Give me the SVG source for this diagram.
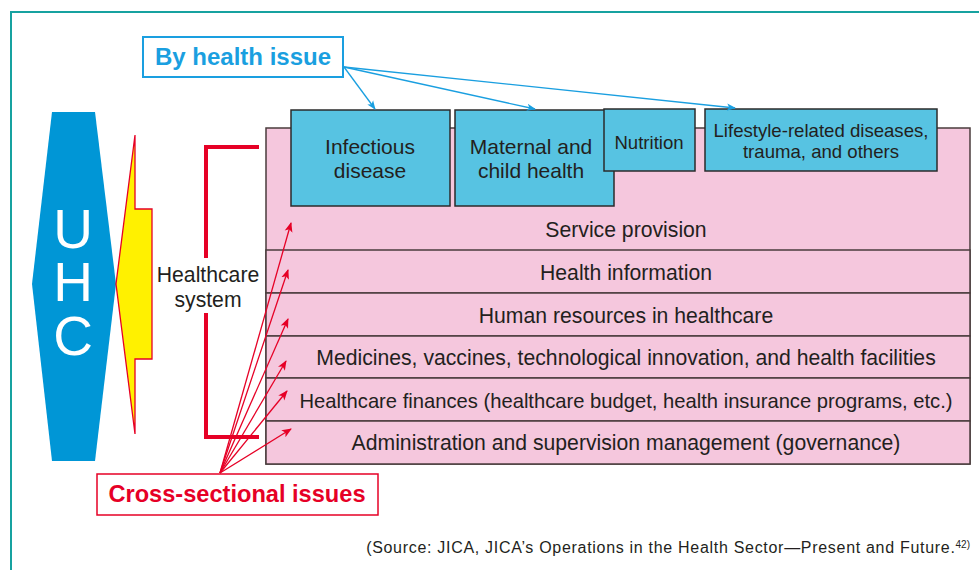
<svg xmlns="http://www.w3.org/2000/svg" width="979" height="570" viewBox="0 0 979 570">
<defs>
<marker id="ab" viewBox="0 0 10 10" refX="9" refY="5" markerWidth="9" markerHeight="9" markerUnits="userSpaceOnUse" orient="auto"><path d="M0,1 L10,5 L0,9 L2.5,5 Z" fill="#1a9fe0"/></marker>
<marker id="ar" viewBox="0 0 10 10" refX="9" refY="5" markerWidth="10" markerHeight="10" markerUnits="userSpaceOnUse" orient="auto"><path d="M0,1 L10,5 L0,9 L2.5,5 Z" fill="#e60026"/></marker>
</defs>
<style>
text{font-family:"Liberation Sans",Arial,sans-serif;fill:#231f20}
.blue{fill:#57c3e2;stroke:#2b2b2b;stroke-width:1.5}
.row{fill:#f5c7dd;stroke:#4a3c3c;stroke-width:1.5}
.lbl{font-size:21.2px;text-anchor:middle}
.box{font-size:21px;text-anchor:middle}
.sm{font-size:18.6px;text-anchor:middle}
.bl{stroke:#1a9fe0;stroke-width:1.3;fill:none}
.rd{stroke:#e60026;stroke-width:1.3;fill:none}
</style>
<rect width="979" height="570" fill="#ffffff"/>
<rect x="11" y="12" width="1000" height="600" fill="none" stroke="#17a2a0" stroke-width="2"/>

<g id="uhc">
<polygon points="52,112 95,112 116,284 95,461 52,461 32,284" fill="#0096d6"/>
<text text-anchor="middle" style="font-size:55px;fill:#ffffff"><tspan x="73" y="248">U</tspan><tspan x="73" y="301">H</tspan><tspan x="73" y="355">C</tspan></text>
</g>
<g id="bolt">
<polygon points="135,135 135,209 152,209 152,359 135,359 135,434 116,284" fill="#fff100" stroke="#e60026" stroke-width="1.3"/>
</g>

<g id="healthcare-system">
<rect x="266" y="128" width="704" height="336" class="row"/>
<rect x="266" y="250" width="704" height="43" class="row"/>
<rect x="266" y="293" width="704" height="43" class="row"/>
<rect x="266" y="336" width="704" height="42" class="row"/>
<rect x="266" y="378" width="704" height="43" class="row"/>
<rect x="266" y="421" width="704" height="43" class="row"/>
<text x="626" y="237" class="lbl">Service provision</text>
<text x="626" y="280" class="lbl">Health information</text>
<text x="626" y="323" class="lbl">Human resources in healthcare</text>
<text x="626" y="365" class="lbl">Medicines, vaccines, technological innovation, and health facilities</text>
<text x="626" y="408" class="lbl" style="font-size:20.2px">Healthcare finances (healthcare budget, health insurance programs, etc.)</text>
<text x="626" y="450" class="lbl">Administration and supervision management (governance)</text>
</g>

<g id="infectious">
<rect x="291" y="110" width="159" height="96" class="blue"/>
<text x="370" y="154" class="box">Infectious</text>
<text x="370" y="178" class="box">disease</text>
</g>
<g id="maternal">
<rect x="455" y="110" width="159" height="96" class="blue"/>
<text x="531" y="154" class="box">Maternal and</text>
<text x="531" y="178" class="box">child health</text>
</g>
<g id="nutrition">
<rect x="604" y="109" width="91" height="62" class="blue"/>
<text x="649" y="149" class="sm">Nutrition</text>
</g>
<g id="lifestyle">
<rect x="705" y="109" width="232" height="62" class="blue"/>
<text x="821" y="137" class="sm">Lifestyle-related diseases,</text>
<text x="821" y="158" class="sm">trauma, and others</text>
</g>

<g id="by-health-issue">
<rect x="143" y="37" width="200" height="40" fill="#ffffff" stroke="#1a9fe0" stroke-width="2"/>
<text x="243" y="65" text-anchor="middle" style="font-size:24px;font-weight:bold;fill:#1a9fe0">By health issue</text>
</g>

<g id="healthcare-label">
<text x="208" y="282" class="lbl">Healthcare</text>
<text x="208" y="307" class="lbl">system</text>
</g>

<g id="cross-sectional">
<rect x="97" y="474" width="281" height="41" fill="#ffffff" stroke="#e60026" stroke-width="1.5"/>
<text x="237" y="502" text-anchor="middle" style="font-size:23.6px;font-weight:bold;fill:#e60026">Cross-sectional issues</text>
</g>

<g id="connectors">
<path d="M259,147 H206 V258 M206,313 V437 H259" stroke="#e60026" stroke-width="4" fill="none"/>
<line x1="344" y1="67" x2="375" y2="109" class="bl" marker-end="url(#ab)"/>
<line x1="344" y1="67" x2="535" y2="109" class="bl" marker-end="url(#ab)"/>
<line x1="344" y1="67" x2="735" y2="108" class="bl" marker-end="url(#ab)"/>
<line x1="220" y1="473" x2="291" y2="223" class="rd" marker-end="url(#ar)"/>
<line x1="220" y1="473" x2="288" y2="270" class="rd" marker-end="url(#ar)"/>
<line x1="220" y1="473" x2="288" y2="319" class="rd" marker-end="url(#ar)"/>
<line x1="220" y1="473" x2="286" y2="361" class="rd" marker-end="url(#ar)"/>
<line x1="220" y1="473" x2="287" y2="391" class="rd" marker-end="url(#ar)"/>
<line x1="220" y1="473" x2="291" y2="429" class="rd" marker-end="url(#ar)"/>
</g>

<g id="source">
<text x="970" y="553" text-anchor="end" style="font-size:16px;letter-spacing:0.7px">(Source: JICA, JICA’s Operations in the Health Sector—Present and Future.<tspan dy="-5" style="font-size:10px;letter-spacing:0">42)</tspan></text>
</g>
</svg>
